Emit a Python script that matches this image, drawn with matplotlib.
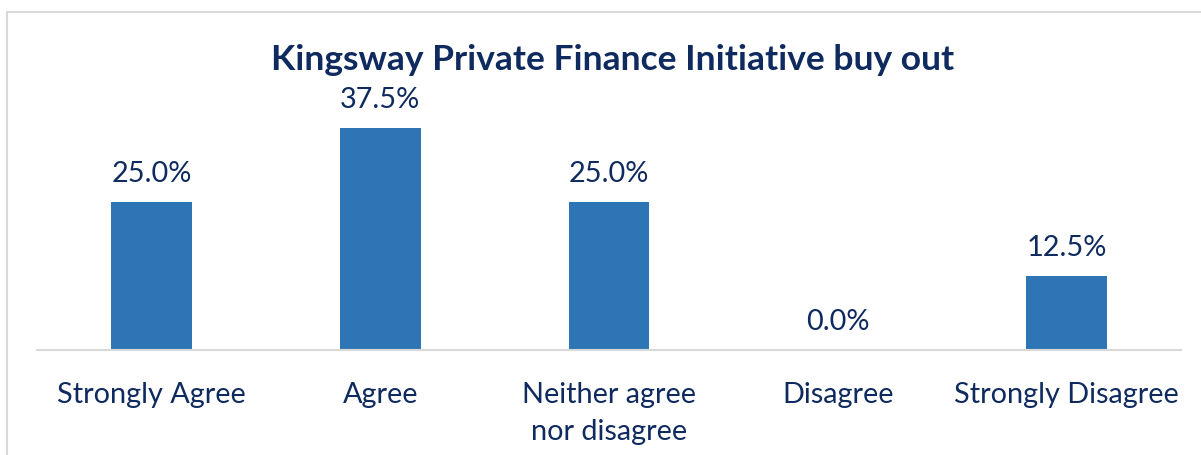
import matplotlib.pyplot as plt
from matplotlib.patches import Rectangle

categories = ['Strongly Agree', 'Agree', 'Neither agree\nnor disagree', 'Disagree', 'Strongly Disagree']
values = [25.0, 37.5, 25.0, 0.0, 12.5]
title = 'Kingsway Private Finance Initiative buy out'

navy = '#0f2a5e'
bar_color = '#2e75b6'
W, H = 1201, 455

fig = plt.figure(figsize=(W / 100, H / 100), dpi=100)
plt.rcParams['font.family'] = ['Lato', 'DejaVu Sans']

# chart frame (cut off at right and bottom in the original)
fig.patches.append(Rectangle((7 / W, -0.2), 1.2, 0.2 + (H - 12) / H,
                             transform=fig.transFigure, fill=False,
                             edgecolor='#d9d9d9', linewidth=1.5))

ax = fig.add_axes([37 / W, (H - 350) / H, 1144 / W, 290 / H])
x = range(len(categories))
bars = ax.bar(x, values, width=0.354, color=bar_color)
ax.set_xlim(-0.5, len(categories) - 0.5)
ax.set_ylim(0, 290 / 5.92)

for b, v in zip(bars, values):
    ax.annotate(f'{v:.1f}%', (b.get_x() + b.get_width() / 2, v),
                xytext=(0, 11), textcoords='offset points',
                ha='center', va='bottom', fontsize=20.8, color=navy)

ax.set_xticks(list(x))
ax.set_xticklabels(categories, fontsize=20.8, color=navy, linespacing=1.55)
ax.tick_params(axis='x', length=0, pad=23)
ax.set_yticks([])
for s in ['top', 'right', 'left']:
    ax.spines[s].set_visible(False)
ax.spines['bottom'].set_color('#d9d9d9')
ax.spines['bottom'].set_linewidth(1.5)

fig.text(613 / W, (H - 60) / H, title, ha='center', va='center',
         fontsize=25.5, fontweight='bold', color=navy)

fig.savefig('out.png', dpi=100)
